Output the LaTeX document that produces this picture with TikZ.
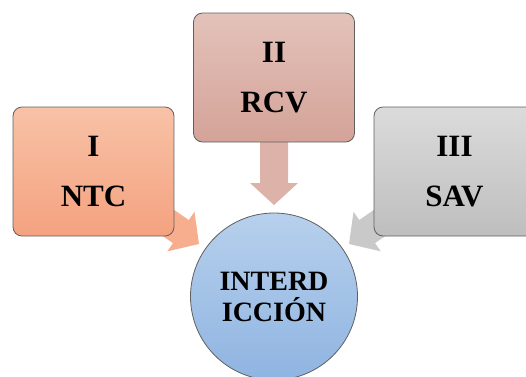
\documentclass[tikz,border=0pt]{standalone}
\usepackage{fontspec}
\setmainfont{Liberation Serif}
\usetikzlibrary{calc}

\definecolor{edgegray}{HTML}{5F5F5F}
\definecolor{ntcTop}{HTML}{F8C2A7}
\definecolor{ntcBot}{HTML}{F4A27F}
\definecolor{ntcArrow}{HTML}{F6AE8E}
\definecolor{rcvTop}{HTML}{E3C2BA}
\definecolor{rcvBot}{HTML}{D4A398}
\definecolor{rcvArrow}{HTML}{DDB2A8}
\definecolor{savTop}{HTML}{DBDBDB}
\definecolor{savBot}{HTML}{BEBEBE}
\definecolor{savArrow}{HTML}{C9C9C9}
\definecolor{hubTop}{HTML}{B7D0EC}
\definecolor{hubBot}{HTML}{8FB4E1}

% block arrow from #1 (start) to #2 (tip), filled with #3
\newcommand\blockarrow[3]{%
  \path coordinate (#2-base) at ($(#2)!22pt!(#1)$);
  \fill[#3] ($(#1)!14pt!-90:(#2)$)
    -- ($(#2-base)!14pt!90:(#1)$)
    -- ($(#2-base)!24pt!90:(#1)$)
    -- (#2)
    -- ($(#2-base)!24pt!-90:(#1)$)
    -- ($(#2-base)!14pt!-90:(#1)$)
    -- ($(#1)!14pt!90:(#2)$) -- cycle;
}

\tikzset{
  card/.style={draw=edgegray, line width=0.8pt, rounded corners=9pt,
    minimum width=161pt, minimum height=129pt, inner sep=0pt,
    align=center, font=\fontsize{31}{50}\selectfont\bfseries},
  hubnode/.style={circle, draw=edgegray, line width=0.8pt,
    minimum size=167pt, inner sep=0pt, align=center,
    font=\fontsize{28}{31}\selectfont\bfseries,
    top color=hubTop, bottom color=hubBot},
}

\begin{document}
\begin{tikzpicture}[x=1pt,y=-1pt]
  \useasboundingbox (0,0) rectangle (526,376);
  \clip (0,0) rectangle (526,376);

  % anchor points for the boxes and the arrow tips
  \coordinate (cI) at (93.5,171.5);
  \coordinate (cII) at (274,77.5);
  \coordinate (cIII) at (454.5,171.5);
  \coordinate (tipI) at (199,244);
  \coordinate (tipII) at (274,205);
  \coordinate (tipIII) at (349,244);

  % arrows go underneath the boxes
  \blockarrow{cI}{tipI}{ntcArrow}
  \blockarrow{cII}{tipII}{rcvArrow}
  \blockarrow{cIII}{tipIII}{savArrow}

  \node[card, top color=ntcTop, bottom color=ntcBot] (ntc) at (cI) {I\\NTC};
  \node[card, top color=rcvTop, bottom color=rcvBot] (rcv) at (cII) {II\\RCV};
  \node[card, top color=savTop, bottom color=savBot] (sav) at (cIII) {III\\SAV};

  \node[hubnode] (hub) at (274,296.5) {INTERD\\ICCIÓN};
\end{tikzpicture}
\end{document}
